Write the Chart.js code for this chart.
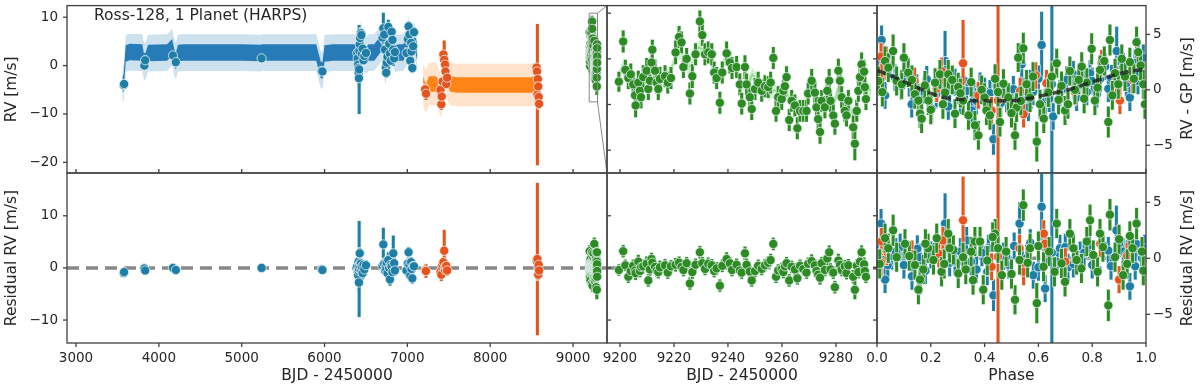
<!DOCTYPE html>
<html>
<head>
<meta charset="utf-8">
<script src="https://cdn.jsdelivr.net/npm/chart.js@4.4.0/dist/chart.umd.min.js"></script>
<style>
  body { margin: 0; background: #fff; }
  #wrap { position: relative; width: 1200px; height: 388px; }
  #wrap canvas { position: absolute; left: 0; top: 0; }
</style>
</head>
<body>
<div id="wrap">
  <canvas id="lt" width="1200" height="388"></canvas>
  <canvas id="lb" width="1200" height="388"></canvas>
  <canvas id="mt" width="1200" height="388"></canvas>
  <canvas id="mb" width="1200" height="388"></canvas>
  <canvas id="rt" width="1200" height="388"></canvas>
  <canvas id="rb" width="1200" height="388"></canvas>
</div>
<script>
// ---- data ----

// HARPS (pre) - blue
const blueT   = [3575, 3580, 3825, 3835, 4170, 4205, 5240, 5965, 5975,
                 6395, 6400, 6405, 6410, 6412, 6415, 6418, 6420, 6425, 6430, 6440, 6445, 6450, 6460, 6470, 6480, 6500,
                 6700, 6710, 6720, 6730, 6740, 6745, 6750, 6760, 6770, 6780, 6790, 6800, 6810, 6820, 6830, 6840, 6850,
                 6990, 7005, 7015, 7025, 7035, 7045, 7050, 7060, 7070, 7080];
const blueRV  = [-4.0, -3.8, 0.0, 1.1, 2.1, 0.7, 1.5, -1.1, -1.2,
                 2.6, 1.5, 0.2, -0.5, -1.5, -2.6, -0.8, 3.0, 4.4, 5.7, 6.7, 6.3, 2.4, 3.5, 1.1, 2.0, 2.6,
                 5.8, 7.7, 6.4, 3.3, -0.4, -1.5, 0.6, 1.8, 8.0, 4.5, 2.5, 1.0, 7.0, 5.3, 3.3, 1.5, 2.8,
                 2.6, 5.5, 8.1, 6.4, 1.0, 4.7, 2.9, -0.5, 4.0, 6.9];
const blueErr = [0.6, 0.6, 0.8, 0.8, 0.7, 0.8, 0.7, 0.7, 0.7,
                 1.0, 1.2, 1.5, 1.2, 1.3, 2.0, 9.2, 1.2, 1.0, 1.1, 1.0, 1.2, 1.0, 1.1, 1.0, 1.0, 1.0,
                 1.0, 3.2, 1.0, 1.0, 1.2, 1.0, 1.0, 1.0, 1.5, 1.0, 1.2, 1.0, 1.0, 1.0, 3.4, 1.0, 1.0,
                 1.0, 1.0, 1.0, 1.0, 1.0, 1.0, 1.0, 1.0, 1.0, 1.0];
const blueRes = [-1.0, -0.8, -0.1, -0.5, 0.0, -0.4, 0.0, -0.3, -0.4,
                 0.3, -0.8, -1.4, 1.2, -0.6, -2.8, -0.2, 0.5, 2.8, 1.0, 0.8, -0.5, 0.2, -1.0, 0.6, -0.3, 0.5,
                 0.4, 4.5, 0.8, -0.5, 0.2, -0.3, 1.0, -1.0, 1.5, 0.0, -2.2, 0.6, 0.3, -0.8, 2.8, 0.9, -0.5,
                 -0.5, 0.8, 3.0, 0.5, -1.5, 1.1, -0.2, -2.0, 0.4, 0.3];

// HARPS (post) - orange
const orangeT   = [7215, 7225, 7400, 7410, 7415, 7425, 7435, 7445, 7455, 7460, 7470, 7480,
                   8560, 8565, 8570, 8575, 8580, 8585, 8590];
const orangeRV  = [-4.9, -5.8, -5.0, -8.0, -6.4, -3.3, 2.3, 1.2, 0.2, -1.2, -3.8, -2.5,
                   -0.4, -1.2, -6.0, -2.8, -4.3, -6.5, -7.9];
const orangeErr = [1.0, 1.3, 1.0, 1.2, 1.0, 1.0, 1.0, 4.0, 1.0, 1.0, 1.0, 1.0,
                   1.0, 1.0, 14.6, 1.0, 1.0, 1.0, 1.0];
const orangeRes = [-0.5, -0.6, -0.8, -1.3, 0.2, 0.6, 1.1, 3.3, -0.4, 0.3, 0.4, -0.5,
                   1.5, 1.2, 1.7, 0.2, -1.3, 0.6, -0.5];

// 2021 season - green
const greenT = [9199.6, 9201.2, 9202.0, 9203.1, 9204.0, 9204.9, 9205.6, 9205.8, 9206.8, 9207.4,
                9207.8, 9208.6, 9209.9, 9210.5, 9211.1, 9211.7, 9212.0, 9213.0, 9213.6, 9214.2,
                9214.8, 9216.7, 9217.7, 9218.9, 9220.6, 9221.9, 9222.8, 9223.5, 9224.7, 9225.9,
                9226.8, 9228.0, 9229.6, 9230.5, 9231.5, 9232.7, 9234.0, 9234.9, 9235.8, 9237.0,
                9237.9, 9239.5, 9240.7, 9241.5, 9243.2, 9244.4, 9245.1, 9246.3, 9246.9, 9248.1,
                9248.8, 9250.0, 9251.2, 9252.5, 9253.7, 9254.9, 9255.8, 9256.8, 9257.8, 9258.6,
                9259.9, 9260.5, 9261.1, 9261.7, 9262.7, 9263.6, 9264.8, 9265.7, 9266.7, 9267.9,
                9269.1, 9269.7, 9271.0, 9272.2, 9272.8, 9273.4, 9274.1, 9274.7, 9275.9, 9276.8,
                9277.5, 9278.0, 9279.0, 9279.6, 9280.9, 9281.5, 9282.1, 9283.3, 9283.9, 9284.6,
                9286.4, 9287.0, 9287.7, 9288.3, 9288.9, 9289.5, 9290.4, 9290.7, 9291.1];
const greenRV = [2.5, 6.9, 3.8, 2.9, 3.3, 2.2, 1.0, -0.1, 2.4, 1.5,
                 0.8, 3.0, 3.7, 1.7, 2.6, 4.6, 6.0, 3.7, 2.4, 1.7,
                 2.8, 3.1, 2.4, 2.9, 5.7, 7.4, 6.8, 4.1, 5.0, 1.2,
                 3.1, 5.5, 9.1, 7.6, 5.5, 5.7, 5.5, 3.5, 2.9, 0.2,
                 3.5, 5.6, 4.6, 4.0, 4.1, 2.2, 0.1, 4.1, 2.2, 0.8,
                 -0.5, 1.7, 2.4, 1.5, 2.0, 1.9, 2.4, 5.1, -0.7, 0.8,
                 0.6, 1.5, 2.0, 3.0, -1.7, 0.4, -0.1, -2.6, -0.7, -0.7,
                 -0.7, 1.2, 2.6, 1.3, -0.3, -1.6, -3.0, 0.4, -0.3, 1.5,
                 2.6, 0.4, -1.2, -2.1, 3.7, 2.6, 0.8, -0.7, -1.2, 0.4,
                 -2.5, -4.3, -0.7, 1.5, 3.0, 4.4, 3.6, 1.9, 0.6];
const greenErr = [1.1, 1.2, 1.1, 1.2, 1.2, 1.2, 1.2, 1.3, 1.3, 1.2,
                  1.2, 1.3, 1.4, 1.2, 1.2, 1.2, 1.1, 1.2, 1.2, 1.2,
                  1.3, 1.2, 1.2, 1.2, 1.3, 1.2, 1.2, 1.2, 1.2, 1.2,
                  1.3, 1.2, 1.2, 1.2, 1.2, 1.2, 1.2, 1.2, 1.2, 1.2,
                  1.2, 1.3, 1.2, 1.2, 1.2, 1.2, 1.2, 1.3, 1.2, 1.2,
                  1.2, 1.2, 1.2, 1.2, 1.2, 1.2, 1.2, 1.2, 1.2, 1.2,
                  1.2, 1.2, 1.2, 1.2, 1.2, 1.2, 1.2, 1.2, 1.2, 1.2,
                  1.2, 1.2, 1.3, 1.2, 1.2, 1.2, 1.3, 1.2, 1.2, 1.3,
                  1.3, 1.2, 1.2, 1.2, 1.3, 1.3, 1.2, 1.2, 1.2, 1.2,
                  1.3, 1.8, 1.2, 1.2, 1.3, 1.3, 1.3, 1.2, 1.2];
const greenRes = [-0.4, 3.2, 0.5, -1.7, -0.6, 0.4, -0.5, -1.0, 1.2, -0.6,
                  0.2, 0.3, 0.8, -2.4, -0.3, 1.7, 1.0, 0.2, -0.5, -0.8,
                  0.1, 0.5, -0.9, 0.3, 0.6, 1.0, 0.2, -0.4, 0.9, -3.0,
                  -0.8, 0.6, 3.0, 0.9, -0.2, 0.8, 0.5, -0.6, -0.1, -3.4,
                  0.4, 1.7, 0.9, -0.4, 0.6, -0.5, -0.9, 2.8, 0.6, -0.7,
                  -2.4, -0.6, 0.4, -0.2, 0.5, 1.0, 1.5, 4.6, -1.7, -0.5,
                  -0.2, -0.8, 0.3, 0.9, -2.4, 0.2, -0.3, -2.0, 0.4, -0.2,
                  -0.9, 0.8, 1.3, 0.5, -0.6, -1.3, -1.9, 0.9, -0.4, 1.8,
                  3.0, -0.3, -0.9, -3.7, 1.4, 0.6, -0.4, 0.3, -1.0, 0.5,
                  -1.7, -4.2, 0.4, -0.8, 1.2, 3.0, 0.7, -0.6, -1.7];

// GP model curves
const blueGPt   = [3560, 3575, 3600, 3650, 3800, 3820, 3840, 3870, 4100, 4160, 4185, 4205, 4230, 4300,
                   5000, 5230, 5250, 5900, 5955, 5975, 6000, 6100, 6380, 6400, 6420, 6440, 6460, 6500,
                   6530, 6600, 6700, 6720, 6740, 6760, 6780, 6800, 6820, 6850, 6900, 6950, 7000, 7020,
                   7040, 7060, 7080, 7120];
const blueGPrv  = [-4.0, -3.5, 2.5, 2.8, 2.7, 0.8, 1.0, 2.6, 2.7, 3.8, 1.8, 0.9, 2.6, 2.7,
                   2.7, 2.6, 2.7, 2.7, -0.9, -1.0, 2.5, 2.7, 2.7, 1.0, 1.5, 5.5, 3.0, 2.0,
                   2.7, 2.7, 5.0, 1.0, 0.0, 3.0, 5.0, 2.5, 4.0, 2.5, 2.7, 2.7, 4.0, 6.5,
                   3.0, 2.0, 5.5, 2.7];
const blueGPsig = [1.7, 3.8];
const orangeGPt   = [7190, 7210, 7230, 7260, 7350, 7390, 7410, 7430, 7450, 7470, 7490, 7520,
                     7600, 8500, 8550, 8565, 8580, 8600, 8610];
const orangeGPrv  = [-3.8, -5.0, -5.2, -3.8, -3.8, -5.5, -6.5, -2.0, 1.0, -1.0, -3.0, -3.8,
                     -4.0, -4.0, -3.5, -2.0, -5.5, -4.0, -4.0];
const orangeGPsig = [1.6, 4.4];
const greenGPt  = [9199, 9201.5, 9203, 9205, 9207, 9209, 9211, 9213, 9215, 9217, 9219, 9221,
                   9223, 9225, 9227, 9229, 9231, 9233, 9235, 9237, 9239, 9241, 9243, 9245,
                   9247, 9249, 9251, 9253, 9255, 9257, 9259, 9261, 9263, 9265, 9267, 9269,
                   9271, 9273, 9275, 9277, 9279, 9281, 9283, 9285, 9287, 9289, 9291, 9293];
const greenGPrv = [2.6, 4.5, 3.0, 1.8, 2.3, 3.0, 3.4, 3.3, 2.7, 2.9, 3.8, 5.6,
                   5.6, 4.0, 4.5, 6.3, 6.0, 5.2, 3.5, 3.3, 5.0, 4.3, 3.8, 2.4,
                   1.8, 3.3, 2.6, 2.0, 1.0, 1.6, 1.3, 1.8, 0.5, -0.3, -0.4, 0.3,
                   1.5, -0.5, -0.8, 1.2, -0.3, 2.0, 0.0, -0.3, -1.5, 2.5, 2.0, 1.5];
const greenGPsig = [0.7, 1.6];

// phase-folded planet signal (RV - GP)
const kepPh = [0, 0.07, 0.14, 0.23, 0.28, 0.35, 0.42, 0.48, 0.52, 0.58, 0.64, 0.72, 0.79, 0.87, 0.94, 1.0];
const kepRV = [1.75, 1.1, 0.3, -0.6, -0.8, -0.98, -1.0, -0.98, -0.95, -0.7, -0.38, 0.06, 0.65, 1.24, 1.69, 1.84];

const phBlue    = [0.017, 0.02, 0.03, 0.048, 0.067, 0.104, 0.129, 0.148, 0.166, 0.185, 0.203, 0.24, 0.253, 0.265,
                   0.29, 0.31, 0.333, 0.352, 0.364, 0.383, 0.4, 0.414, 0.433, 0.445, 0.482, 0.507, 0.538, 0.55,
                   0.563, 0.612, 0.625, 0.65, 0.655, 0.68, 0.705, 0.742, 0.767, 0.792, 0.817, 0.848, 0.872, 0.891,
                   0.916, 0.927, 0.94, 0.959, 0.978, 0.99, 0.09, 0.22, 0.32, 0.46, 0.52, 0.58, 0.6, 0.69, 0.73,
                   0.78, 0.83, 0.86, 0.9, 0.97, 0.005, 0.12, 0.27, 0.37, 0.42, 0.5, 0.57, 0.64, 0.75, 0.8];
const phBlueRV  = [4.5, 3.0, -0.5, 2.3, 1.1, 1.5, -1.3, 0.2, -0.95, 0.95, -1.7, 0.7, 2.6, -1.5,
                   0.7, -0.97, -0.1, -1.86, -0.53, 0.36, -0.1, -1.58, -4.45, 0.36, -0.83, 0.06, 2.3, -0.1,
                   -1.6, 4.05, -1.1, 0.5, -2.4, -0.3, 0.9, -0.7, 0.5, 1.5, -0.4, 2.1, 1.05, 3.5,
                   2.1, 0.6, -0.7, 2.45, 1.5, 2.9, 0.3, -0.4, 0.9, -1.2, -0.9, -0.2, 1.0, 0.1, 1.4,
                   -0.2, 1.0, 0.1, 1.8, 0.8, 1.6, 0.6, 0.0, -1.0, -0.3, -1.5, 0.6, -0.8, 0.4, 0.8];
const phBlueErr = [1.3, 1.2, 1.2, 1.2, 1.2, 1.2, 1.2, 1.2, 1.2, 1.2, 1.2, 1.2, 2.7, 1.2,
                   1.2, 1.2, 1.2, 1.2, 1.2, 1.2, 1.2, 1.2, 1.4, 1.2, 1.2, 1.2, 1.9, 1.2,
                   1.2, 3.0, 1.2, 12, 1.2, 1.2, 1.2, 1.2, 1.2, 1.2, 1.2, 1.2, 1.2, 2.2,
                   1.2, 1.2, 1.2, 1.2, 1.2, 1.2, 1.2, 1.2, 1.2, 1.2, 1.2, 1.2, 1.2, 1.2, 1.2,
                   1.2, 1.2, 1.2, 1.2, 1.2, 1.2, 1.2, 1.2, 1.2, 1.2, 1.2, 1.2, 1.2, 1.2, 1.2];
const phOrange    = [0.015, 0.017, 0.035, 0.13, 0.14, 0.222, 0.24, 0.32, 0.377, 0.426, 0.45, 0.532, 0.545,
                     0.59, 0.63, 0.736, 0.835, 0.89, 0.903, 0.95];
const phOrangeRV  = [3.0, 1.1, 2.7, 0.6, 0.8, 0.1, 1.7, 2.4, -0.5, -1.85, -0.97, -0.1, -2.2,
                     1.3, 0.6, -0.2, 2.4, 0.9, -0.97, 0.9];
const phOrangeErr = [1.2, 1.2, 1.2, 1.2, 1.2, 1.2, 1.2, 3.9, 1.2, 1.2, 15, 1.2, 1.2,
                     1.2, 1.2, 1.2, 1.2, 1.2, 1.2, 1.2];
const phGreen    = [0.03, 0.042, 0.06, 0.073, 0.092, 0.116, 0.141, 0.154, 0.16, 0.166, 0.178, 0.191, 0.216, 0.234,
                    0.253, 0.265, 0.29, 0.302, 0.32, 0.34, 0.364, 0.377, 0.389, 0.407, 0.439, 0.457, 0.47, 0.488,
                    0.513, 0.519, 0.525, 0.544, 0.556, 0.569, 0.594, 0.606, 0.637, 0.668, 0.686, 0.699, 0.717, 0.736,
                    0.761, 0.78, 0.798, 0.81, 0.829, 0.86, 0.866, 0.885, 0.897, 0.922, 0.94, 0.965, 0.971, 0.99,
                    0.996, 0.005, 0.02, 0.1, 0.13, 0.2, 0.245, 0.28, 0.31, 0.35, 0.4, 0.42, 0.45, 0.5, 0.535,
                    0.58, 0.62, 0.65, 0.675, 0.71, 0.75, 0.77, 0.82, 0.845, 0.875, 0.91, 0.955, 0.98];
const phGreenRV  = [2.6, 2.0, 3.5, 0.8, 0.5, 1.55, -0.4, -0.97, -2.15, -2.6, 0.4, -0.97, 0.65, 1.4,
                    -0.24, 1.4, -2.15, 0.25, -0.97, -2.3, -3.2, -4.1, 0.0, -1.86, 1.0, -2.9, 0.55, -0.68,
                    -4.1, -1.6, 2.9, 3.75, 0.5, -0.7, -4.67, -1.3, -0.24, 2.4, 0.36, -1.86, 1.7, 0.0,
                    2.1, 0.65, 3.7, -0.97, 1.8, -2.9, 4.5, 1.5, 0.5, 1.2, 2.5, 4.3, 3.4, 0.5,
                    -1.3, 0.8, -0.2, 2.9, 0.9, -1.8, -1.3, 0.9, -0.3, 0.7, -0.7, -2.3, -0.2, -2.1, -1.0,
                    1.2, -2.6, 1.2, -0.9, -1.3, 0.9, -0.8, 0.2, 2.6, -0.5, 2.8, 1.0, 2.2];
const phGreenErr = [1.3, 1.3, 1.5, 1.3, 1.3, 1.3, 1.3, 1.3, 1.3, 1.3, 1.3, 1.3, 1.3, 1.3,
                    1.3, 1.3, 1.3, 1.3, 1.3, 1.3, 1.3, 1.3, 1.3, 1.3, 1.3, 1.3, 1.3, 1.3,
                    1.3, 1.3, 1.3, 1.4, 1.3, 1.3, 1.8, 1.3, 1.3, 1.3, 1.3, 1.3, 1.3, 1.3,
                    1.3, 1.3, 1.4, 1.3, 1.3, 1.4, 1.4, 1.3, 1.3, 1.3, 1.3, 1.4, 1.3, 1.3,
                    1.3, 1.3, 1.3, 1.3, 1.3, 1.3, 1.3, 1.3, 1.3, 1.3, 1.3, 1.3, 1.3, 1.3, 1.3,
                    1.3, 1.3, 1.3, 1.3, 1.3, 1.3, 1.3, 1.3, 1.3, 1.3, 1.3, 1.3, 1.3];

// phase-folded residuals
const rpBlue    = [0.015, 0.025, 0.03, 0.055, 0.086, 0.13, 0.15, 0.2, 0.253, 0.265, 0.29, 0.333, 0.37, 0.414,
                   0.433, 0.47, 0.53, 0.556, 0.581, 0.612, 0.625, 0.65, 0.68, 0.71, 0.755, 0.79, 0.82, 0.86,
                   0.89, 0.915, 0.94, 0.965, 0.985, 0.005, 0.04, 0.07, 0.1, 0.16, 0.18, 0.22, 0.24, 0.27, 0.31,
                   0.35, 0.39, 0.41, 0.45, 0.49, 0.51, 0.54, 0.57, 0.6, 0.63, 0.67, 0.7, 0.73, 0.77, 0.8,
                   0.84, 0.87, 0.9, 0.93, 0.96, 0.995];
const rpBlueRes = [3.1, 1.05, -1.9, 0.2, 1.0, -1.6, 0.85, 0.3, 3.1, 1.3, -0.3, 1.6, -1.0, 0.9,
                   -3.3, 0.2, 3.1, 0.0, -1.5, 4.6, -2.7, 0.5, 0.9, -0.8, 0.3, 1.2, -1.0, 0.7,
                   2.5, 0.6, -2.5, 1.3, 0.0, 0.5, -0.6, 0.6, -0.6, 0.1, -1.1, 1.1, -0.5, -0.4, 0.6,
                   -0.3, 0.5, -1.2, 0.9, -0.6, 1.1, -0.4, 1.4, -0.8, 0.7, -0.3, 1.0, -0.5, 0.5, -0.6,
                   1.2, -0.7, 1.3, 0.4, -0.7, 0.9];
const rpBlueErr = [1.3, 1.2, 1.2, 1.2, 1.2, 1.2, 1.2, 1.2, 2.7, 1.2, 1.2, 1.2, 1.2, 1.2,
                   1.4, 1.2, 1.9, 1.2, 1.2, 3.0, 1.2, 12, 1.2, 1.2, 1.2, 1.2, 1.2, 1.2,
                   2.2, 1.2, 1.2, 1.2, 1.2, 1.2, 1.2, 1.2, 1.2, 1.2, 1.2, 1.2, 1.2, 1.2, 1.2,
                   1.2, 1.2, 1.2, 1.2, 1.2, 1.2, 1.2, 1.2, 1.2, 1.2, 1.2, 1.2, 1.2, 1.2, 1.2,
                   1.2, 1.2, 1.2, 1.2, 1.2, 1.2];
const rpOrange    = [0.015, 0.017, 0.036, 0.13, 0.23, 0.245, 0.32, 0.426, 0.45, 0.53, 0.545, 0.62, 0.625,
                     0.7, 0.83, 0.9, 0.93];
const rpOrangeRes = [-0.4, 1.5, 0.6, 0.4, 0.4, 1.6, 3.4, -0.75, 0.15, 0.9, -1.2, 2.2, 1.3,
                     -0.3, 1.3, -1.9, 0.2];
const rpOrangeErr = [1.2, 1.2, 1.2, 1.2, 1.2, 1.2, 3.9, 1.2, 15, 1.2, 1.2, 1.2, 1.2,
                     1.2, 1.2, 1.2, 1.2];
const rpGreen    = [0.042, 0.06, 0.073, 0.104, 0.141, 0.154, 0.16, 0.172, 0.19, 0.21, 0.222, 0.24, 0.265,
                    0.284, 0.302, 0.32, 0.357, 0.364, 0.383, 0.395, 0.439, 0.45, 0.464, 0.513, 0.53, 0.544,
                    0.569, 0.594, 0.619, 0.668, 0.686, 0.699, 0.717, 0.742, 0.792, 0.804, 0.829, 0.86, 0.866,
                    0.885, 0.915, 0.94, 0.965, 0.985, 0.01, 0.03, 0.12, 0.18, 0.25, 0.27, 0.33, 0.35, 0.41,
                    0.43, 0.48, 0.5, 0.56, 0.6, 0.64, 0.66, 0.73, 0.76, 0.78, 0.82, 0.84, 0.9, 0.93, 0.95, 0.99];
const rpGreenRes = [0.9, 2.5, 0.1, 1.3, -0.6, -2.8, -1.9, -1.0, 0.9, -0.15, 1.8, -1.2, 2.2,
                    0.75, -1.35, 0.1, -1.95, 1.5, 1.5, -2.8, 2.2, 0.9, -1.5, -3.7, -0.15, 4.75,
                    0.9, -4.0, -0.75, 3.1, -0.45, -2.1, 2.2, -0.15, 3.4, 0.3, 2.2, -4.2, 3.9,
                    0.1, -1.5, 2.0, 3.1, 0.6, -0.5, 1.8, 0.2, 1.3, -0.5, 0.9, -1.0, 0.6, -0.2,
                    1.9, 0.6, -1.4, -0.4, 1.1, 0.6, -1.2, 0.9, -0.9, 1.5, -1.2, 1.0, 1.7, -0.5, 0.9, -1.1];
const rpGreenErr = [1.3, 1.4, 1.3, 1.3, 1.3, 1.3, 1.3, 1.3, 1.3, 1.3, 1.3, 1.3, 1.3,
                    1.3, 1.3, 1.3, 1.3, 1.3, 1.3, 1.3, 1.3, 1.3, 1.3, 1.3, 1.3, 1.4,
                    1.3, 1.8, 1.3, 1.3, 1.3, 1.3, 1.3, 1.3, 1.4, 1.3, 1.3, 1.4, 1.4,
                    1.3, 1.3, 1.3, 1.4, 1.3, 1.3, 1.3, 1.3, 1.3, 1.3, 1.3, 1.3, 1.3, 1.3,
                    1.3, 1.3, 1.3, 1.3, 1.3, 1.3, 1.3, 1.3, 1.3, 1.3, 1.3, 1.3, 1.3, 1.3, 1.3, 1.3];

// tick labels
const bjdTicks   = [3000, 4000, 5000, 6000, 7000, 8000, 9000];
const zoomTicks  = [9200, 9220, 9240, 9260, 9280];
const phaseTicks = [0, 0.2, 0.4, 0.6, 0.8, 1.0];
const rvTicks    = [10, 0, -10, -20];
const resTicks   = [10, 0, -10];
const zoomRvTicks = [10, 5, 0, -5];
const phRvTicks  = [5, 0, -5];

// axis limits
const BJD_MIN = 2891, BJD_MAX = 9410;
const ZOOM_MIN = 9195.2, ZOOM_MAX = 9295.2;
const RV_MIN = -22.2, RV_MAX = 12.4;
const RES_MIN = -14.4, RES_MAX = 18.2;
const ZRV_MIN = -7.5, ZRV_MAX = 10.83;

// ---- styles ----
const FONT = "'DejaVu Sans', sans-serif";
const TXT = '#262626';
const C_BLUE = '#1f7ea6', C_ORANGE = '#e8531c', C_GREEN = '#2e8b24';

const errorBars = {
    id: 'errorBars',
    beforeDatasetDraw(chart, args) {
        const ds = chart.data.datasets[args.index];
        if (!ds.errs) return;
        const ctx = chart.ctx, ys = chart.scales.y, a = chart.chartArea;
        ctx.save();
        ctx.beginPath();
        ctx.rect(a.left, a.top, a.right - a.left, a.bottom - a.top);
        ctx.clip();
        args.meta.data.forEach((p, i) => {
            const v = ds.data[i].y, e = ds.errs[i];
            const y1 = ys.getPixelForValue(v - e), y2 = ys.getPixelForValue(v + e);
            ctx.strokeStyle = 'rgba(230,245,235,0.8)';
            ctx.lineWidth = 4.6;
            ctx.beginPath(); ctx.moveTo(p.x, y1 + 1); ctx.lineTo(p.x, y2 - 1); ctx.stroke();
            ctx.strokeStyle = ds.backgroundColor;
            ctx.lineWidth = 3;
            ctx.beginPath(); ctx.moveTo(p.x, y1); ctx.lineTo(p.x, y2); ctx.stroke();
        });
        ctx.restore();
    }
};

// box around the axes and matplotlib-like tick marks
const frame = {
    id: 'frame',
    afterDatasetsDraw(chart, args, opts) {
        const { ctx, chartArea: a } = chart;
        ctx.save();
        ctx.strokeStyle = '#404040';
        ctx.lineWidth = 1.3;
        ctx.strokeRect(a.left, a.top, a.right - a.left, a.bottom - a.top);
        (opts.marks || []).forEach(m => {
            const s = chart.scales[m.axis];
            const len = m.dir === 'in' ? -4 : 4;
            s.ticks.forEach(tk => {
                const p = s.getPixelForValue(tk.value);
                ctx.beginPath();
                if (m.side === 'bottom') { ctx.moveTo(p, a.bottom); ctx.lineTo(p, a.bottom + len); }
                if (m.side === 'left') { ctx.moveTo(a.left, p); ctx.lineTo(a.left - len, p); }
                if (m.side === 'right') { ctx.moveTo(a.right, p); ctx.lineTo(a.right + len, p); }
                ctx.stroke();
            });
        });
        (opts.notes || []).forEach(n => {
            ctx.save();
            ctx.fillStyle = TXT;
            ctx.font = n.size + 'px ' + FONT;
            ctx.textAlign = n.align || 'center';
            ctx.textBaseline = 'middle';
            ctx.translate(n.x, n.y);
            if (n.rot) ctx.rotate(n.rot);
            ctx.fillText(n.text, 0, 0);
            ctx.restore();
        });
        ctx.restore();
    }
};

function minusFmt(v) { return v < 0 ? '\u2212' + Math.abs(v) : String(v); }
function phaseFmt(v) { return v.toFixed(1); }

function axis(o) {
    return {
        type: 'linear', position: o.pos, min: o.min, max: o.max,
        afterBuildTicks: s => { s.ticks = o.ticks.map(v => ({ value: v })); },
        afterFit: s => {
            if (s.isHorizontal()) s.height = o.size; else s.width = o.size;
            s.paddingLeft = s.paddingRight = s.paddingTop = s.paddingBottom = 0;
        },
        grid: { display: false, drawTicks: false },
        border: { display: false },
        ticks: {
            display: !!o.labels, autoSkip: false, maxRotation: 0, padding: o.pad || 8,
            color: TXT, font: { family: FONT, size: 13.5 }, callback: o.fmt || minusFmt
        },
        title: {
            display: !!o.title, text: o.title || '', color: TXT,
            font: { family: FONT, size: 15.5 }, padding: { top: 3, bottom: 3 }
        }
    };
}

function pts(xs, ys) { return xs.map((x, i) => ({ x: x, y: ys[i] })); }

function points(xs, ys, errs, color) {
    return {
        type: 'scatter', data: pts(xs, ys), errs: errs,
        backgroundColor: color, borderColor: 'rgba(235,245,250,0.75)', borderWidth: 1,
        pointRadius: 4.6, pointHoverRadius: 4.6
    };
}

function line(xs, ys, color, width, dash) {
    return {
        type: 'line', data: pts(xs, ys), borderColor: color, borderWidth: width,
        borderDash: dash || [], pointRadius: 0, fill: false, tension: 0
    };
}

function band(xs, mid, half, color) {
    return [
        { type: 'line', data: xs.map((x, i) => ({ x: x, y: mid[i] + half })), fill: '+1',
          backgroundColor: color, borderWidth: 0, pointRadius: 0, tension: 0 },
        { type: 'line', data: xs.map((x, i) => ({ x: x, y: mid[i] - half })), fill: false,
          borderWidth: 0, pointRadius: 0, tension: 0 }
    ];
}

function panel(id, area, x, y, datasets, frameOpts) {
    // datasets listed bottom to top
    datasets.forEach((d, i, arr) => { d.order = arr.length - i; });
    const pad = {
        top: area.t,
        bottom: 388 - area.b - x.size,
        left: y.pos === 'left' ? area.l - y.size : area.l,
        right: y.pos === 'left' ? 1200 - area.r : 1200 - area.r - y.size
    };
    return new Chart(document.getElementById(id), {
        type: 'scatter',
        data: { datasets: datasets },
        options: {
            responsive: false, animation: false, devicePixelRatio: 1, events: [],
            layout: { padding: pad },
            scales: { x: axis(x), y: axis(y) },
            plugins: { legend: { display: false }, tooltip: { enabled: false }, frame: frameOpts }
        },
        plugins: [errorBars, frame]
    });
}

const TOP = { t: 4, b: 173 }, BOT = { t: 173, b: 343 };
const LEFT = { l: 67, r: 607 }, MID = { l: 607, r: 877 }, RIGHT = { l: 877, r: 1146 };
const GREY = '#888888';

// left top: full RV time series
panel('lt', Object.assign({}, LEFT, TOP),
    { pos: 'bottom', min: BJD_MIN, max: BJD_MAX, ticks: bjdTicks, size: 0 },
    { pos: 'left', min: RV_MIN, max: RV_MAX, ticks: rvTicks, size: 67, labels: true, pad: 9, title: 'RV [m/s]' },
    [].concat(
        band(blueGPt, blueGPrv, blueGPsig[1], 'rgba(31,119,180,0.22)'),
        band(blueGPt, blueGPrv, blueGPsig[0], 'rgba(31,119,180,0.95)'),
        band(orangeGPt, orangeGPrv, orangeGPsig[1], 'rgba(255,127,14,0.22)'),
        band(orangeGPt, orangeGPrv, orangeGPsig[0], 'rgba(255,127,14,0.95)'),
        band(greenGPt, greenGPrv, greenGPsig[1], 'rgba(144,220,144,0.35)'),
        [points(blueT, blueRV, blueErr, C_BLUE),
         points(orangeT, orangeRV, orangeErr, C_ORANGE),
         points(greenT, greenRV, greenErr, C_GREEN),
         line([ZOOM_MIN, ZOOM_MAX, ZOOM_MAX, ZOOM_MIN, ZOOM_MIN], [ZRV_MAX, ZRV_MAX, ZRV_MIN, ZRV_MIN, ZRV_MAX], GREY, 1),
         line([ZOOM_MAX, BJD_MAX], [ZRV_MAX, RV_MAX], GREY, 1),
         line([ZOOM_MAX, BJD_MAX], [ZRV_MIN, RV_MIN], GREY, 1)]
    ),
    {
        marks: [{ axis: 'x', side: 'bottom', dir: 'in' }, { axis: 'y', side: 'left', dir: 'out' }],
        notes: [{ text: 'Ross-128, 1 Planet (HARPS)', x: 94, y: 16, size: 15.5, align: 'left' }]
    });

// left bottom: residuals vs time
panel('lb', Object.assign({}, LEFT, BOT),
    { pos: 'bottom', min: BJD_MIN, max: BJD_MAX, ticks: bjdTicks, size: 45, labels: true, pad: 7, title: 'BJD - 2450000' },
    { pos: 'left', min: RES_MIN, max: RES_MAX, ticks: resTicks, size: 67, labels: true, pad: 9, title: 'Residual RV [m/s]' },
    [line([BJD_MIN, BJD_MAX], [0, 0], GREY, 3.5, [12, 7]),
     points(blueT, blueRes, blueErr, C_BLUE),
     points(orangeT, orangeRes, orangeErr, C_ORANGE),
     points(greenT, greenRes, greenErr, C_GREEN)],
    { marks: [{ axis: 'x', side: 'bottom', dir: 'out' }, { axis: 'y', side: 'left', dir: 'out' }] });

// middle top: zoom on the last season
panel('mt', Object.assign({}, MID, TOP),
    { pos: 'bottom', min: ZOOM_MIN, max: ZOOM_MAX, ticks: zoomTicks, size: 0 },
    { pos: 'left', min: ZRV_MIN, max: ZRV_MAX, ticks: zoomRvTicks, size: 0 },
    [].concat(
        band(greenGPt, greenGPrv, greenGPsig[0], 'rgba(150,225,150,0.45)'),
        [line(greenGPt, greenGPrv, '#8fd68f', 1.5),
         points(greenT, greenRV, greenErr, C_GREEN)]
    ),
    { marks: [{ axis: 'x', side: 'bottom', dir: 'in' }, { axis: 'y', side: 'left', dir: 'in' }, { axis: 'y', side: 'right', dir: 'in' }] });

// middle bottom: zoomed residuals
panel('mb', Object.assign({}, MID, BOT),
    { pos: 'bottom', min: ZOOM_MIN, max: ZOOM_MAX, ticks: zoomTicks, size: 45, labels: true, pad: 7, title: 'BJD - 2450000' },
    { pos: 'left', min: RES_MIN, max: RES_MAX, ticks: resTicks, size: 0 },
    [line([ZOOM_MIN, ZOOM_MAX], [0, 0], GREY, 3.5, [12, 7]),
     points(greenT, greenRes, greenErr, C_GREEN)],
    { marks: [{ axis: 'x', side: 'bottom', dir: 'out' }, { axis: 'y', side: 'left', dir: 'in' }, { axis: 'y', side: 'right', dir: 'in' }] });

// right top: phase folded RV - GP
panel('rt', Object.assign({}, RIGHT, TOP),
    { pos: 'bottom', min: 0, max: 1, ticks: phaseTicks, size: 0 },
    { pos: 'right', min: -7.5, max: 7.6, ticks: phRvTicks, size: 54, labels: true, pad: 7 },
    [points(phBlue, phBlueRV, phBlueErr, C_BLUE),
     points(phOrange, phOrangeRV, phOrangeErr, C_ORANGE),
     points(phGreen, phGreenRV, phGreenErr, C_GREEN),
     line(kepPh, kepRV, 'rgba(25,25,25,0.75)', 3.5, [9, 5])],
    {
        marks: [{ axis: 'x', side: 'bottom', dir: 'in' }, { axis: 'y', side: 'right', dir: 'out' }],
        notes: [{ text: 'RV - GP [m/s]', x: 1188, y: 88.5, size: 15.5, rot: -Math.PI / 2 }]
    });

// right bottom: phase folded residuals
panel('rb', Object.assign({}, RIGHT, BOT),
    { pos: 'bottom', min: 0, max: 1, ticks: phaseTicks, size: 45, labels: true, pad: 7, title: 'Phase', fmt: phaseFmt },
    { pos: 'right', min: -7.56, max: 7.62, ticks: phRvTicks, size: 54, labels: true, pad: 7 },
    [line([0, 1], [0, 0], GREY, 3.5, [12, 7]),
     points(rpBlue, rpBlueRes, rpBlueErr, C_BLUE),
     points(rpOrange, rpOrangeRes, rpOrangeErr, C_ORANGE),
     points(rpGreen, rpGreenRes, rpGreenErr, C_GREEN)],
    {
        marks: [{ axis: 'x', side: 'bottom', dir: 'out' }, { axis: 'y', side: 'right', dir: 'out' }],
        notes: [{ text: 'Residual RV [m/s]', x: 1188, y: 258, size: 15.5, rot: -Math.PI / 2 }]
    });
</script>
</body>
</html>
